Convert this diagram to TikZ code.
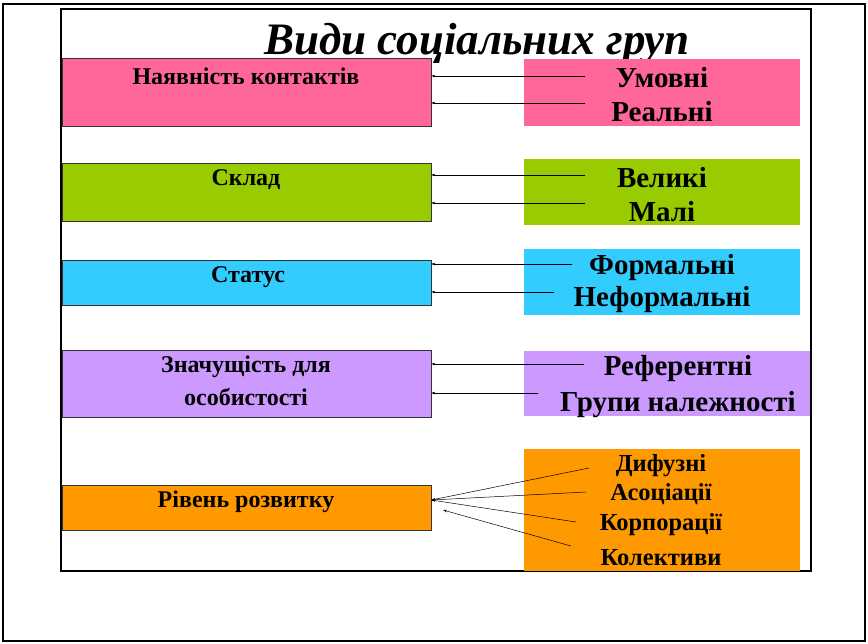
\documentclass[tikz,border=0pt]{standalone}
\usepackage{fontspec}
\setmainfont{Liberation Serif}
\usetikzlibrary{arrows.meta}
\usetikzlibrary{calc}

\definecolor{pinkc}{HTML}{FF6699}
\definecolor{greenc}{HTML}{99CC00}
\definecolor{cyanc}{HTML}{33CCFF}
\definecolor{violetc}{HTML}{CC99FF}
\definecolor{orangec}{HTML}{FF9900}

\tikzset{
  lbox/.style={draw=black!80, line width=0.6pt, minimum width=369pt, inner sep=0pt},
  rbox/.style={minimum width=276pt, inner sep=0pt},
  ltext/.style={font=\bfseries\fontsize{24}{26}\selectfont, inner sep=0pt},
  rtext/.style={font=\bfseries\fontsize{29}{31}\selectfont, inner sep=0pt},
  otext/.style={font=\bfseries\fontsize{24.5}{26}\selectfont, inner sep=0pt},
  arr/.style={-{Stealth[length=4pt,width=2.5pt]}, line width=0.5pt}
}

\begin{document}
\begin{tikzpicture}[x=1pt, y=-1pt]
\useasboundingbox (0,0) rectangle (868,643);
\draw[line width=2pt] (3,4) rectangle (865,641);
\draw[line width=2pt] (61,9) rectangle (811,571);

\node[font=\bfseries\itshape\fontsize{45}{48}\selectfont, inner sep=0pt, anchor=base] (title) at (477,54) {Види соціальних груп};

% left column
\node[lbox, fill=pinkc, minimum height=68pt] (contacts) at (246.5,92) {};
\node[lbox, fill=greenc, minimum height=58pt] (compos) at (246.5,192) {};
\node[lbox, fill=cyanc, minimum height=45pt] (status) at (246.5,282.5) {};
\node[lbox, fill=violetc, minimum height=67pt] (signif) at (246.5,383.5) {};
\node[lbox, fill=orangec, minimum height=45pt] (level) at (246.5,507.5) {};

\node[ltext] (contactsT) at (246,76) {Наявність контактів};
\node[ltext] (composT) at (246,180) {Склад};
\node[ltext] (statusT) at (248,277) {Статус};
\node[ltext] (signifT) at (246,367) {Значущість для};
\node[ltext] (signifT2) at (246,397) {особистості};
\node[ltext] (levelT) at (246,502) {Рівень розвитку};

% right column
\node[rbox, fill=pinkc, minimum height=67pt] (contactsR) at (662,92) {};
\node[rbox, fill=greenc, minimum height=66pt] (composR) at (661.5,192) {};
\node[rbox, fill=cyanc, minimum height=66pt] (statusR) at (661.5,282) {};
\node[rbox, fill=violetc, minimum height=65pt, minimum width=286pt] (signifR) at (667,383.5) {};
\node[rbox, fill=orangec, minimum height=122pt] (levelR) at (662,510) {};

\node[rtext] (cond) at (662,78) {Умовні};
\node[rtext] (real) at (662,112) {Реальні};
\node[rtext] (large) at (662,178) {Великі};
\node[rtext] (small) at (662,212) {Малі};
\node[rtext] (formal) at (662,268) {Формальні};
\node[rtext] (informal) at (662,300) {Неформальні};
\node[rtext] (refer) at (678,369) {Референтні};
\node[rtext] (member) at (678,405) {Групи належності};
\node[otext] (diff) at (661,466) {Дифузні};
\node[otext] (assoc) at (661,494) {Асоціації};
\node[otext] (corp) at (661,525) {Корпорації};
\node[otext] (coll) at (661,558) {Колективи};

% connectors
\coordinate (c1) at (585,76);
\coordinate (c2) at (585,103);
\coordinate (c3) at (585,175);
\coordinate (c4) at (585,203);
\coordinate (c5) at (572,264);
\coordinate (c6) at (554,292);
\coordinate (c7) at (584,364);
\coordinate (c8) at (538,393);
\draw[arr] (c1) -- (c1 -| contacts.east);
\draw[arr] (c2) -- (c2 -| contacts.east);
\draw[arr] (c3) -- (c3 -| compos.east);
\draw[arr] (c4) -- (c4 -| compos.east);
\draw[arr] (c5) -- (c5 -| status.east);
\draw[arr] (c6) -- (c6 -| status.east);
\draw[arr] (c7) -- (c7 -| signif.east);
\draw[arr] (c8) -- (c8 -| signif.east);

\coordinate (hub) at (level.east |- 0,500);
\coordinate (d1) at (589,468);
\coordinate (d2) at (586,492);
\coordinate (d3) at (576,522);
\coordinate (d4) at (571,546);
\coordinate (d4e) at (443,510);
\draw[arr] (d1) -- (hub);
\draw[arr] (d2) -- (hub);
\draw[arr] (d3) -- (hub);
\draw[arr] (d4) -- (d4e);
\end{tikzpicture}
\end{document}
